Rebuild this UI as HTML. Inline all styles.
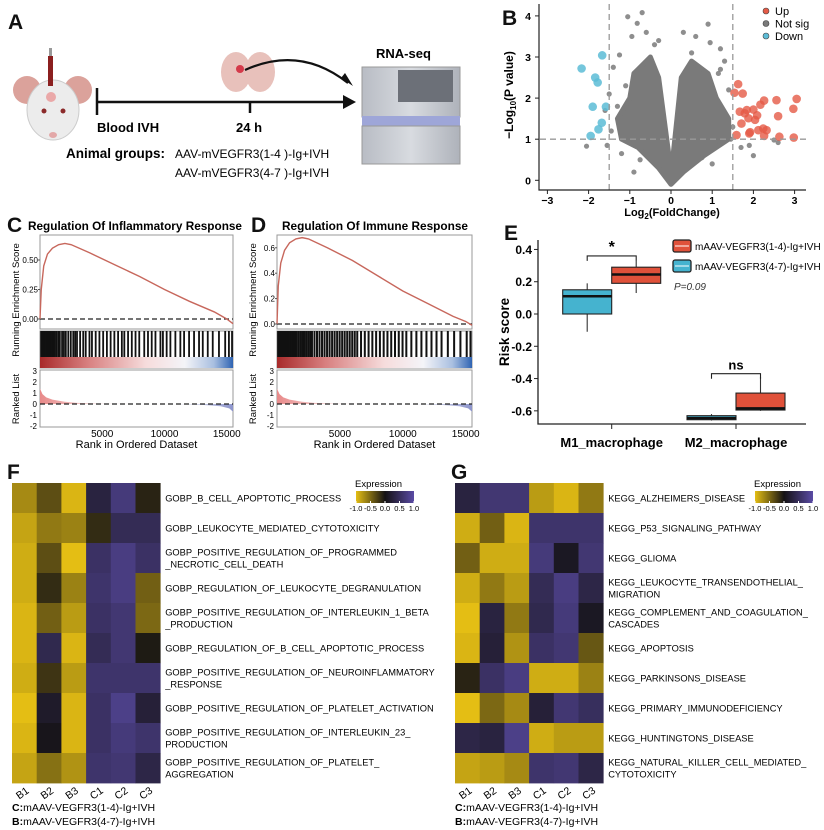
<!DOCTYPE html>
<html><head><meta charset="utf-8">
<style>
html,body{margin:0;padding:0;background:#fff;}
svg{display:block;font-family:"Liberation Sans",Arial,sans-serif;}
.pl{font-weight:bold;font-size:21px;fill:#111;}
</style></head>
<body>
<svg id="fig" width="824" height="830" viewBox="0 0 824 830" xmlns="http://www.w3.org/2000/svg">
<defs>
<linearGradient id="bcg" x1="0" x2="1" y1="0" y2="0">
<stop offset="0" stop-color="#a82a2a"/><stop offset="0.25" stop-color="#d88080"/><stop offset="0.55" stop-color="#f6dcdc"/><stop offset="0.75" stop-color="#f4f4f8"/><stop offset="0.9" stop-color="#a9bfe0"/><stop offset="1" stop-color="#2f64b3"/>
</linearGradient>
<linearGradient id="rlg" x1="0" x2="1" y1="0" y2="0">
<stop offset="0" stop-color="#e88a8a"/><stop offset="0.3" stop-color="#f8dede"/><stop offset="0.7" stop-color="#f0f0f6"/><stop offset="1" stop-color="#8d95cc"/>
</linearGradient>
<linearGradient id="hmg" x1="0" x2="1" y1="0" y2="0">
<stop offset="0" stop-color="rgb(228,190,20)"/><stop offset="0.25" stop-color="rgb(124,104,20)"/><stop offset="0.5" stop-color="rgb(20,18,20)"/><stop offset="0.75" stop-color="rgb(55,46,92)"/><stop offset="1" stop-color="rgb(90,75,165)"/>
</linearGradient>
<linearGradient id="mach" x1="0" x2="1"><stop offset="0" stop-color="#b8bcc4"/><stop offset="0.5" stop-color="#d8dbe0"/><stop offset="1" stop-color="#aeb2ba"/></linearGradient>
</defs>

<!-- Panel A -->
<g>
<text class="pl" x="8" y="29">A</text>
<g>
<circle cx="27" cy="90" r="14" fill="#dba29b"/><circle cx="78" cy="90" r="14" fill="#dba29b"/>
<ellipse cx="53" cy="110" rx="26" ry="30" fill="#ececec" stroke="#ccc"/>
<circle cx="44" cy="111" r="2.5" fill="#8b2a2a"/><circle cx="63" cy="111" r="2.5" fill="#8b2a2a"/>
<ellipse cx="53" cy="135" rx="4" ry="3" fill="#e3a8a8"/>
<circle cx="51" cy="97" r="5" fill="#e98b8b" opacity="0.7"/>
<rect x="48" y="56" width="5" height="30" fill="#8b1f1f"/><rect x="49" y="48" width="3" height="8" fill="#999"/>
</g>
<line x1="97" y1="102" x2="345" y2="102" stroke="#111" stroke-width="2.5"/>
<polygon points="343,95 356,102 343,109" fill="#111"/>
<line x1="97" y1="88" x2="97" y2="115" stroke="#111" stroke-width="2.5"/>
<line x1="250" y1="102" x2="250" y2="113" stroke="#111" stroke-width="2.5"/>
<g>
<ellipse cx="236" cy="72" rx="15" ry="20" fill="#e8c1bb"/><ellipse cx="260" cy="72" rx="15" ry="20" fill="#e8c1bb"/>
<circle cx="240" cy="69" r="4" fill="#d43a4a"/>
</g>
<path d="M245,70 Q300,45 348,83" fill="none" stroke="#111" stroke-width="2.2"/>
<polygon points="341,78 353,86 345,73" fill="#111"/>
<text x="97" y="132" font-size="13" font-weight="bold">Blood IVH</text>
<text x="236" y="132" font-size="13" font-weight="bold">24 h</text>
<text x="66" y="158" font-size="13.5" font-weight="bold">Animal groups:</text>
<text x="175" y="158" font-size="12">AAV-mVEGFR3(1-4 )-Ig+IVH</text>
<text x="175" y="177" font-size="12">AAV-mVEGFR3(4-7 )-Ig+IVH</text>
<text x="376" y="58" font-size="13" font-weight="bold">RNA-seq</text>
<g>
<rect x="362" y="67" width="98" height="50" fill="url(#mach)" stroke="#999"/>
<rect x="398" y="70" width="55" height="32" fill="#6c7078"/>
<rect x="362" y="116" width="98" height="10" fill="#9ea6d8"/>
<rect x="362" y="126" width="98" height="38" fill="url(#mach)" stroke="#999"/>
</g>
</g>

<g id="panelB">
<text class="pl" x="502" y="25">B</text>
</g>
<g id="panelC">
<text class="pl" x="7" y="232">C</text>
<text x="28" y="230" font-size="12" font-weight="bold" textLength="214" lengthAdjust="spacingAndGlyphs">Regulation Of Inflammatory Response</text>
</g>
<g id="panelD">
<text class="pl" x="251" y="232">D</text>
<text x="282" y="230" font-size="12" font-weight="bold" textLength="186" lengthAdjust="spacingAndGlyphs">Regulation Of Immune Response</text>
</g>
<g id="panelE">
<text class="pl" x="504" y="240">E</text>
</g>
<g id="panelF">
<text class="pl" x="7" y="479">F</text>
</g>
<g id="panelG">
<text class="pl" x="451" y="479">G</text>
</g>
</svg>

<script>
// ---------- DATA ----------
// Volcano
var upX = [1.63,1.54,1.74,2.26,2.56,3.05,2.97,2.60,1.67,1.84,2.00,1.79,1.88,2.04,1.71,2.17,1.92,2.24,2.12,2.32,1.59,1.90,2.63,2.98,2.26,2.09];
var upY = [2.34,2.13,2.11,1.94,1.95,1.98,1.74,1.56,1.67,1.71,1.72,1.63,1.51,1.47,1.38,1.84,1.17,1.26,1.22,1.22,1.10,1.14,1.06,1.04,1.08,1.58];
var downX = [-2.17,-1.67,-1.84,-1.78,-1.90,-1.58,-1.68,-1.76,-1.95];
var downY = [2.72,3.04,2.50,2.38,1.79,1.79,1.40,1.24,1.08];
var nsX = [-1.05,-0.82,-0.70,-0.60,-0.95,-1.25,-1.40,-1.50,-1.55,-2.05,-1.60,-1.20,-0.90,0.90,0.95,0.60,1.20,1.15,1.20,1.40,1.70,2.00,2.60,2.50,1.90,1.50,-0.40,0.50,-1.1,-1.3,1.3,1.0,-0.75,0.75,-1.45,1.45,0.3,-0.3];
var nsY = [3.98,3.82,4.08,3.60,3.50,3.05,2.75,2.10,0.85,0.83,1.70,0.65,0.20,3.80,3.35,3.50,3.20,2.60,2.70,2.20,0.80,0.60,0.92,0.98,0.85,1.30,3.30,3.10,2.3,1.8,2.9,0.4,0.5,0.55,1.2,1.0,3.6,3.4];
var nsCoreX = [0,-0.3,-0.8,-1.2,-1.3,-1.0,-0.9,-0.5,-0.3,-0.05,0.05,0.25,0.5,0.9,1.1,1.4,1.4,0.8,0.3];
var nsCoreY = [-0.1,0.3,0.8,1.0,1.5,2.0,2.6,3.0,2.5,0.6,0.6,2.5,2.9,2.6,2.0,1.5,1.0,0.6,0.2];
var volXTicks = [-3,-2,-1,0,1,2,3];
var volYTicks = [0,1,2,3,4];

// GSEA
var esRanks = [0,100,300,600,1000,1500,2000,2500,4000,6000,8000,10000,12000,14000,15000,15500];
var esC = [0,0.25,0.45,0.55,0.60,0.63,0.64,0.63,0.56,0.46,0.36,0.25,0.15,0.06,0.0,-0.04];
var esD = [0,0.30,0.48,0.58,0.64,0.67,0.68,0.67,0.60,0.50,0.38,0.26,0.16,0.06,0.02,-0.01];
var hitsC = [20,60,110,150,200,260,320,380,430,500,560,620,700,760,830,900,1000,1120,1250,1400,1520,1700,1850,2000,2200,2400,2600,2750,2900,3150,3400,3600,3900,4100,4400,4700,5000,5300,5600,5900,6200,6500,6700,7000,7300,7600,7900,8300,8600,8900,9200,9600,9800,10100,10400,10800,11200,11500,11900,12300,12700,13000,13400,13800,14300,14800,15100,15350];
var hitsD = [10,40,80,120,160,200,240,290,340,390,440,500,560,620,680,740,800,870,940,1010,1100,1200,1300,1400,1500,1650,1800,1950,2100,2250,2400,2550,2700,2900,3100,3300,3500,3700,3900,4100,4300,4500,4700,4900,5100,5300,5500,5700,5900,6100,6300,6600,6900,7200,7500,7800,8100,8400,8700,9000,9300,9600,9900,10200,10600,11000,11400,11800,12200,12600,13000,13500,14000,14500,15000,15300];
var rlRanks = [0,200,500,1000,2000,3000,5000,8000,11000,13000,14500,15200,15500];
var rlVals = [1.4,0.9,0.6,0.4,0.2,0.1,0.03,0.0,-0.02,-0.08,-0.2,-0.4,-0.7];
var esTicksC = [0,0.25,0.5];
var esTickLabelsC = ["0.00","0.25","0.50"];
var esTicksD = [0,0.2,0.4,0.6];
var esTickLabelsD = ["0.0","0.2","0.4","0.6"];
var rankTicks = [5000,10000,15000];
var rlTicks = [-2,-1,0,1,2,3];

// Boxplot
var boxGroups = ["M1_macrophage","M2_macrophage"];
var boxSeries = ["mAAV-VEGFR3(1-4)-Ig+IVH","mAAV-VEGFR3(4-7)-Ig+IVH"];
var redMin = [0.13,-0.60], redQ1 = [0.19,-0.595], redMed = [0.245,-0.585], redQ3 = [0.29,-0.49], redMax = [0.33,-0.39];
var blueMin = [-0.11,-0.66], blueQ1 = [0.0,-0.655], blueMed = [0.11,-0.645], blueQ3 = [0.15,-0.63], blueMax = [0.19,-0.62];
var sigLabels = ["*","ns"];
var sigLevels = [0.36,-0.37];
var boxYTicks = [-0.6,-0.4,-0.2,0.0,0.2,0.4];

// Heatmaps
var hmCols = ["B1","B2","B3","C1","C2","C3"];
var fRows = [["GOBP_B_CELL_APOPTOTIC_PROCESS"],["GOBP_LEUKOCYTE_MEDIATED_CYTOTOXICITY"],["GOBP_POSITIVE_REGULATION_OF_PROGRAMMED","_NECROTIC_CELL_DEATH"],["GOBP_REGULATION_OF_LEUKOCYTE_DEGRANULATION"],["GOBP_POSITIVE_REGULATION_OF_INTERLEUKIN_1_BETA","_PRODUCTION"],["GOBP_REGULATION_OF_B_CELL_APOPTOTIC_PROCESS"],["GOBP_POSITIVE_REGULATION_OF_NEUROINFLAMMATORY","_RESPONSE"],["GOBP_POSITIVE_REGULATION_OF_PLATELET_ACTIVATION"],["GOBP_POSITIVE_REGULATION_OF_INTERLEUKIN_23_","PRODUCTION"],["GOBP_POSITIVE_REGULATION_OF_PLATELET_","AGGREGATION"]];
var fVals = [
[-0.7,-0.35,-0.95,0.3,0.7,-0.1],
[-0.85,-0.6,-0.65,-0.15,0.45,0.45],
[-0.9,-0.35,-1.0,0.55,0.75,0.55],
[-0.9,-0.15,-0.65,0.6,0.75,-0.45],
[-0.95,-0.45,-0.8,0.55,0.65,-0.5],
[-0.95,0.4,-0.95,0.45,0.65,-0.05],
[-0.9,-0.2,-0.8,0.6,0.6,0.6],
[-1.0,0.15,-0.95,0.55,0.8,0.25],
[-0.95,0.05,-0.95,0.55,0.7,0.6],
[-0.85,-0.55,-0.75,0.6,0.65,0.35]];
var gRows = [["KEGG_ALZHEIMERS_DISEASE"],["KEGG_P53_SIGNALING_PATHWAY"],["KEGG_GLIOMA"],["KEGG_LEUKOCYTE_TRANSENDOTHELIAL_","MIGRATION"],["KEGG_COMPLEMENT_AND_COAGULATION_","CASCADES"],["KEGG_APOPTOSIS"],["KEGG_PARKINSONS_DISEASE"],["KEGG_PRIMARY_IMMUNODEFICIENCY"],["KEGG_HUNTINGTONS_DISEASE"],["KEGG_NATURAL_KILLER_CELL_MEDIATED_","CYTOTOXICITY"]];
var gVals = [
[0.3,0.65,0.65,-0.8,-0.95,-0.6],
[-0.9,-0.45,-0.95,0.6,0.6,0.6],
[-0.45,-0.9,-0.9,0.7,0.1,0.65],
[-0.9,-0.6,-0.8,0.45,0.75,0.35],
[-1.0,0.3,-0.6,0.4,0.7,0.1],
[-0.95,0.25,-0.75,0.55,0.65,-0.4],
[-0.1,0.55,0.75,-0.9,-0.9,-0.65],
[-1.0,-0.5,-0.7,0.25,0.65,0.5],
[0.35,0.3,0.8,-0.9,-0.8,-0.8],
[-0.85,-0.8,-0.7,0.6,0.65,0.35]];
var legendTicks = [-1.0,-0.5,0.0,0.5,1.0];

// ---------- HELPERS ----------
var NS = "http://www.w3.org/2000/svg";
function mk(tag, attrs, parent) {
  var e = document.createElementNS(NS, tag);
  for (var k in attrs) e.setAttribute(k, attrs[k]);
  parent.appendChild(e);
  return e;
}
function txt(s, attrs, parent) { var e = mk("text", attrs, parent); e.textContent = s; return e; }

// ---------- VOLCANO ----------
(function(){
  var g = document.getElementById("panelB");
  var vx = function(d){ return 671 + d*41.2; };
  var vy = function(d){ return 180.3 - d*41.1; };
  var core = [];
  for (var i=0;i<nsCoreX.length;i++) core.push(vx(nsCoreX[i])+","+vy(nsCoreY[i]));
  var el = mk("polygon",{points:core.join(" "),fill:"#7a7a7a",stroke:"#7a7a7a","stroke-width":5,"stroke-linejoin":"round"},g);
  
  
  for (i=0;i<nsX.length;i++){
    el = mk("circle",{cx:vx(nsX[i]),cy:vy(nsY[i]),r:2.6,fill:"#7a7a7a",opacity:0.85},g);
    
    
  }
  for (i=0;i<upX.length;i++){
    el = mk("circle",{cx:vx(upX[i]),cy:vy(upY[i]),r:4.3,fill:"#e55a46",opacity:0.8},g);
    
    
  }
  for (i=0;i<downX.length;i++){
    el = mk("circle",{cx:vx(downX[i]),cy:vy(downY[i]),r:4.3,fill:"#5cbcd6",opacity:0.85},g);
    
    
  }
  [-1.5,1.5].forEach(function(t){
    var l = mk("line",{x1:vx(t),x2:vx(t),y1:4,y2:190,stroke:"#999","stroke-dasharray":"6,4","stroke-width":1.3},g);
    
    
  });
  el = mk("line",{x1:540,x2:806,y1:vy(1),y2:vy(1),stroke:"#999","stroke-dasharray":"6,4","stroke-width":1.3},g);
  
  
  el = mk("path",{d:"M539,4 V190 H806",fill:"none",stroke:"#222","stroke-width":1.2},g);
  
  
  volXTicks.forEach(function(t){
    mk("line",{x1:vx(t),x2:vx(t),y1:190,y2:194,stroke:"#222"},g);
    var e = txt(String(t).replace("-","\u2212"),{x:vx(t),y:204,"font-size":10.5,"font-weight":"bold","text-anchor":"middle"},g);
    
    
  });
  volYTicks.forEach(function(t){
    mk("line",{x1:535,x2:539,y1:vy(t),y2:vy(t),stroke:"#222"},g);
    var e = txt(String(t),{x:531,y:vy(t)+4,"font-size":10.5,"font-weight":"bold","text-anchor":"end"},g);
    
    
  });
  el = txt("",{x:672,y:216,"font-size":11,"font-weight":"bold","text-anchor":"middle"},g);
  el.innerHTML = 'Log<tspan font-size="8" dy="3">2</tspan><tspan dy="-3">(FoldChange)</tspan>';
  
  
  el = txt("",{x:0,y:0,"font-size":12,"font-weight":"bold","text-anchor":"middle",transform:"translate(513,95) rotate(-90)"},g);
  el.innerHTML = '\u2212Log<tspan font-size="8" dy="3">10</tspan><tspan dy="-3">(P value)</tspan>';
  
  
  var leg = [["Up","#e55a46"],["Not sig","#7a7a7a"],["Down","#5cbcd6"]];
  leg.forEach(function(d,i){
    var c = mk("circle",{cx:766,cy:11+i*12.5,r:3,fill:d[1],stroke:"#444","stroke-width":0.6},g);
    
    
    var t = txt(d[0],{x:775,y:15+i*12.5,"font-size":11},g);
    
    
  });
})();

// ---------- GSEA ----------
function gsea(gid, L, R, es, esY0, esK, esTicks, esLabels, hits, tickW) {
  var g = document.getElementById(gid);
  var rx = function(r){ return L + r/15500*(R-L); };
  var ey = function(v){ return esY0 - v*esK; };
  var ry = function(v){ return 404 - v*11; };
  var el = mk("rect",{x:L,y:235,width:R-L,height:94,fill:"none",stroke:"#999"},g);
  
  
  el = mk("line",{x1:L,x2:R,y1:ey(0),y2:ey(0),stroke:"#222","stroke-dasharray":"5,3","stroke-width":1.3},g);
  
  
  var pts = [];
  for (var i=0;i<esRanks.length;i++) pts.push(rx(esRanks[i])+","+ey(es[i]));
  el = mk("polyline",{points:pts.join(" "),fill:"none",stroke:"#c7675c","stroke-width":1.4},g);
  
  
  esTicks.forEach(function(t,i){
    mk("line",{x1:L-2,x2:L,y1:ey(t),y2:ey(t),stroke:"#555"},g);
    var e = txt(esLabels[i],{x:L-2,y:ey(t)+3,"font-size":8,"text-anchor":"end"},g);
    
    
  });
  el = mk("rect",{x:L,y:331,width:R-L,height:37,fill:"#fff",stroke:"#999"},g);
  
  
  hits.forEach(function(h){
    var b = mk("rect",{x:rx(h),y:331,width:tickW,height:27,fill:"#111"},g);
    
    
  });
  el = mk("rect",{x:L,y:357,width:R-L,height:11,fill:"url(#bcg)"},g);
  
  
  el = mk("rect",{x:L,y:370,width:R-L,height:57,fill:"none",stroke:"#999"},g);
  
  
  var ap = [rx(0)+","+ry(0)];
  for (i=0;i<rlRanks.length;i++) ap.push(rx(rlRanks[i])+","+ry(rlVals[i]));
  ap.push(rx(15500)+","+ry(0));
  el = mk("polygon",{points:ap.join(" "),fill:"url(#rlg)"},g);
  
  
  el = mk("line",{x1:L,x2:R,y1:ry(0),y2:ry(0),stroke:"#222","stroke-dasharray":"5,3","stroke-width":1.3},g);
  
  
  rlTicks.forEach(function(t){
    var e = txt(String(t),{x:L-3,y:ry(t)+3,"font-size":8,"text-anchor":"end"},g);
    
    
  });
  rankTicks.forEach(function(t){
    var e = txt(String(t),{x:rx(t),y:437,"font-size":10,"text-anchor":"middle"},g);
    
    
  });
  el = txt("Rank in Ordered Dataset",{x:(L+R)/2,y:448,"font-size":11,"text-anchor":"middle"},g);
  
  
  el = txt("Running Enrichment Score",{x:0,y:0,"font-size":9.5,"text-anchor":"middle",transform:"translate("+(L-21)+",300) rotate(-90)"},g);
  
  
  el = txt("Ranked List",{x:0,y:0,"font-size":9.5,"text-anchor":"middle",transform:"translate("+(L-21)+",399) rotate(-90)"},g);
  
  
}
gsea("panelC", 40, 233, esC, 319, 118, esTicksC, esTickLabelsC, hitsC, 1.8);
gsea("panelD", 277, 472, esD, 324, 127, esTicksD, esTickLabelsD, hitsD, 2.0);

// ---------- BOXPLOT ----------
(function(){
  var g = document.getElementById("panelE");
  var by = function(v){ return 314 - v*161.4; };
  var cx = [611.7, 736];
  var bw = 49;
  var el = mk("path",{d:"M538,240 V424 H806",fill:"none",stroke:"#222","stroke-width":1.3},g);
  
  
  boxYTicks.forEach(function(t){
    mk("line",{x1:534,x2:538,y1:by(t),y2:by(t),stroke:"#222"},g);
    var e = txt(t.toFixed(1),{x:532,y:by(t)+4.5,"font-size":12,"font-weight":"bold","text-anchor":"end"},g);
    
    
  });
  function box(x0, mn, q1, md, q3, mx, fill, name) {
    var m = x0 + bw/2;
    var w = mk("line",{x1:m,x2:m,y1:by(mx),y2:by(mn),stroke:"#333","stroke-width":1.1},g);
    
    
    var r = mk("rect",{x:x0,y:by(q3),width:bw,height:by(q1)-by(q3),fill:fill,stroke:"#222","stroke-width":1.1},g);
    
    
    var l = mk("line",{x1:x0,x2:x0+bw,y1:by(md),y2:by(md),stroke:"#111","stroke-width":2.5},g);
    
    
  }
  for (var i=0;i<boxGroups.length;i++){
    box(cx[i]-bw, blueMin[i], blueQ1[i], blueMed[i], blueQ3[i], blueMax[i], "#45b3cf", "box-blue-"+boxGroups[i]);
    box(cx[i], redMin[i], redQ1[i], redMed[i], redQ3[i], redMax[i], "#e0513a", "box-red-"+boxGroups[i]);
    mk("line",{x1:cx[i],x2:cx[i],y1:424,y2:429,stroke:"#222"},g);
    var t = txt(boxGroups[i],{x:cx[i],y:447,"font-size":13,"font-weight":"bold","text-anchor":"middle"},g);
    
    
    var y = by(sigLevels[i]);
    var b = mk("path",{d:"M"+(cx[i]-bw/2)+","+(y+5)+" V"+y+" H"+(cx[i]+bw/2)+" V"+(y+5),fill:"none",stroke:"#222","stroke-width":1.1},g);
    
    
    var s = txt(sigLabels[i],{x:cx[i],y:y-4,"font-size":i==0?16:13,"font-weight":"bold","text-anchor":"middle"},g);
    
    
  }
  el = txt("Risk score",{x:0,y:0,"font-size":13.5,"font-weight":"bold","text-anchor":"middle",transform:"translate(509,332) rotate(-90)"},g);
  
  
  var cols = ["#e0513a","#45b3cf"];
  boxSeries.forEach(function(s,i){
    var y = 245 + i*20;
    var r = mk("rect",{x:673,y:y-5,width:18,height:12,rx:2,fill:cols[i],stroke:"#222","stroke-width":1.3},g);
    
    
    mk("line",{x1:675,x2:689,y1:y+1,y2:y+1,stroke:"#fff","stroke-width":1},g);
    var t = txt(s,{x:695,y:y+5,"font-size":10},g);
    
    
  });
  el = txt("P=0.09",{x:674,y:290,"font-size":10,"font-style":"italic",fill:"#333"},g);
  
  
})();

// ---------- HEATMAPS ----------
function lerp(a,b,t){ return Math.round(a+(b-a)*t); }
function hmColor(v){
  var Y=[228,190,20], K=[20,18,20], P=[90,75,165];
  var a,b,t;
  if (v<0){ a=K; b=Y; t=Math.min(1,-v); } else { a=K; b=P; t=Math.min(1,v); }
  return "rgb("+lerp(a[0],b[0],t)+","+lerp(a[1],b[1],t)+","+lerp(a[2],b[2],t)+")";
}
function heatmap(gid, X0, rows, vals, legX) {
  var g = document.getElementById(gid);
  var cw = 24.7, rh = 30, Y0 = 483;
  for (var r=0;r<rows.length;r++){
    for (var c=0;c<hmCols.length;c++){
      var cell = mk("rect",{x:X0+c*cw,y:Y0+r*rh,width:cw+0.4,height:rh+0.4,fill:hmColor(vals[r][c])},g);
      
      
    }
    var lines = rows[r];
    var cy = Y0 + r*rh + rh/2;
    for (var k=0;k<lines.length;k++){
      var yy = lines.length==1 ? cy+3.5 : cy-2.5+k*12;
      var t = txt(lines[k],{x:X0+6*cw+5,y:yy,"font-size":9.3},g);
      
      
    }
  }
  hmCols.forEach(function(s,c){
    var x = X0 + c*cw + cw/2;
    var t = txt(s,{x:0,y:0,"font-size":10.5,"text-anchor":"middle",transform:"translate("+x+",796) rotate(-35)"},g);
    
    
  });
  var n1 = txt("",{x:X0,y:811,"font-size":10.5},g);
  n1.innerHTML = '<tspan font-weight="bold">C:</tspan>mAAV-VEGFR3(1-4)-Ig+IVH';
  
  
  var n2 = txt("",{x:X0,y:825,"font-size":10.5},g);
  n2.innerHTML = '<tspan font-weight="bold">B:</tspan>mAAV-VEGFR3(4-7)-Ig+IVH';
  
  
  var lt = txt("Expression",{x:legX,y:487,"font-size":9.5},g);
  
  
  var lb = mk("rect",{x:legX+1,y:491,width:58,height:12,fill:"url(#hmg)"},g);
  
  
  legendTicks.forEach(function(v){
    var x = legX + 1 + (v+1)/2*58;
    mk("line",{x1:x,x2:x,y1:501,y2:505,stroke:"#fff"},g);
    var t = txt(v.toFixed(1),{x:x,y:511,"font-size":7.5,"text-anchor":"middle"},g);
    
    
  });
}
heatmap("panelF", 12, fRows, fVals, 355);
heatmap("panelG", 455, gRows, gVals, 754);
</script>
</body></html>
